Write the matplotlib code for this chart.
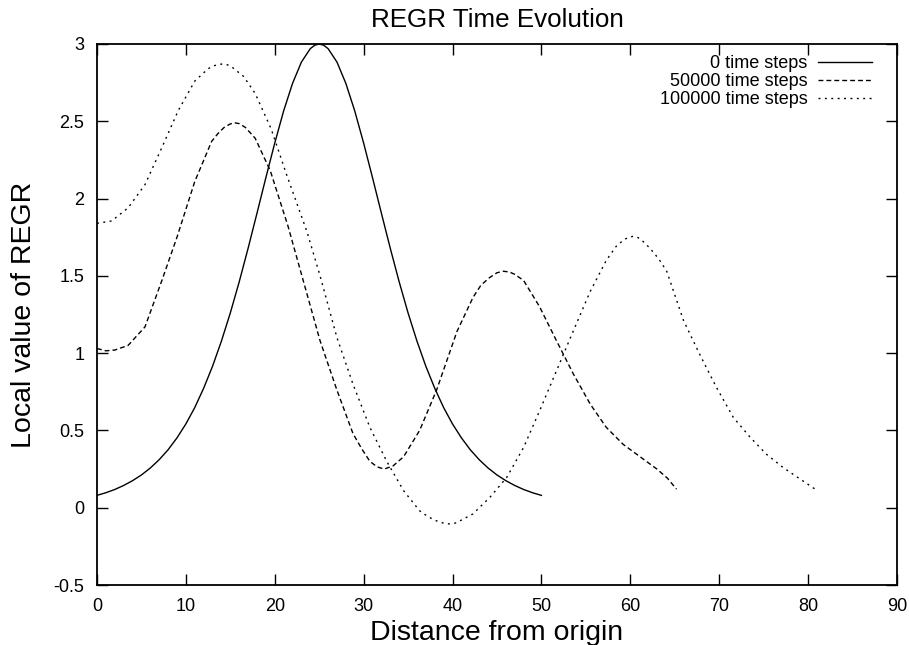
import matplotlib
matplotlib.use("Agg")
import matplotlib.pyplot as plt
from matplotlib.ticker import FormatStrFormatter, MultipleLocator

plt.rcParams["font.family"] = ["Liberation Sans", "DejaVu Sans"]
plt.rcParams["axes.unicode_minus"] = False

# 0 time steps
x_t0 = [0, 1, 2, 3, 4, 5, 6, 7, 8, 9, 10, 11, 12, 13, 14, 15, 16, 17, 18, 19,
        20, 21, 22, 23, 24, 24.5, 25, 25.5, 26, 27, 28, 29, 30, 31, 32, 33, 34,
        35, 36, 37, 38, 39, 40, 41, 42, 43, 44, 45, 46, 47, 48, 49, 50]
y_t0 = [0.080, 0.097, 0.118, 0.144, 0.175, 0.212, 0.257, 0.311, 0.375, 0.452,
        0.542, 0.648, 0.773, 0.915, 1.078, 1.260, 1.461, 1.678, 1.905, 2.135,
        2.359, 2.567, 2.745, 2.883, 2.970, 2.992, 3.000, 2.992, 2.970, 2.883,
        2.745, 2.567, 2.359, 2.135, 1.905, 1.678, 1.461, 1.260, 1.078, 0.915,
        0.773, 0.648, 0.542, 0.452, 0.375, 0.311, 0.257, 0.212, 0.175, 0.144,
        0.118, 0.097, 0.080]

# 50000 time steps
x_t50k = [0, 1, 2, 3.5, 5.4, 7.3, 9, 11, 12.9, 13.6, 14.3, 15, 15.5, 16, 16.7,
          17.8, 19.5, 21.5, 23.2, 25.1, 27, 28.8, 29.8, 30.7, 31.5, 32.3, 33.3,
          34.5, 36.3, 38.2, 40.5, 42.3, 43.2, 44.2, 45, 45.7, 46.4, 47, 48,
          49.8, 51.7, 53.6, 55.5, 57.3, 59.2, 61.1, 63, 64.2, 65.2]
y_t50k = [1.03, 1.015, 1.02, 1.05, 1.17, 1.47, 1.75, 2.11, 2.37, 2.42, 2.46,
          2.483, 2.49, 2.485, 2.46, 2.39, 2.18, 1.82, 1.47, 1.08, 0.76, 0.48,
          0.38, 0.30, 0.265, 0.25, 0.27, 0.33, 0.50, 0.76, 1.14, 1.36, 1.44,
          1.49, 1.52, 1.53, 1.525, 1.51, 1.47, 1.30, 1.08, 0.865, 0.67, 0.52,
          0.41, 0.33, 0.25, 0.19, 0.12]

# 100000 time steps
x_t100k = [0, 1.65, 3.5, 5.4, 7.3, 9.15, 11, 12.5, 13.2, 14, 14.7, 15.2, 16.5,
           17.8, 19.6, 21.3, 23.6, 25.1, 27, 28.8, 30.7, 32.6, 34.5, 36.3,
           37.3, 38.2, 39, 39.7, 40.4, 41, 42.3, 44.2, 46.1, 48, 49.8, 51.7,
           53.6, 55.5, 57.3, 58.4, 59.2, 59.8, 60.3, 60.8, 61.3, 62.2, 63.2,
           64.1, 66, 67.8, 69.7, 71.6, 73.5, 75.3, 77.2, 79.1, 80.8]
y_t100k = [1.84, 1.855, 1.94, 2.09, 2.33, 2.57, 2.76, 2.84, 2.86, 2.87, 2.865,
           2.85, 2.79, 2.68, 2.45, 2.16, 1.79, 1.50, 1.10, 0.80, 0.52, 0.30,
           0.11, -0.02, -0.06, -0.085, -0.10, -0.105, -0.098, -0.08, -0.04,
           0.067, 0.196, 0.39, 0.627, 0.886, 1.145, 1.40, 1.60, 1.69, 1.73,
           1.75, 1.755, 1.75, 1.73, 1.68, 1.61, 1.53, 1.21, 0.994, 0.778,
           0.584, 0.455, 0.347, 0.26, 0.186, 0.12]

fig = plt.figure(figsize=(9.09, 6.45), dpi=100)
ax = fig.add_axes([0.1067, 0.093, 0.88, 0.8388])

ax.plot(x_t0, y_t0, color="black", lw=1.0, linestyle="-", label="0 time steps")
ax.plot(x_t50k, y_t50k, color="black", lw=1.0, linestyle=(0, (3.5, 2.2)),
        label="50000 time steps")
ax.plot(x_t100k, y_t100k, color="black", lw=1.0, linestyle=(0, (1.4, 3.2)),
        label="100000 time steps")

ax.set_xlim(0, 90)
ax.set_ylim(-0.5, 3)
ax.xaxis.set_major_locator(MultipleLocator(10))
ax.yaxis.set_major_locator(MultipleLocator(0.5))
ax.yaxis.set_major_formatter(FormatStrFormatter("%g"))
ax.tick_params(direction="in", top=True, right=True, length=8, width=1.0,
               labelsize=13, pad=9)
for s in ax.spines.values():
    s.set_linewidth(1.3)

ax.set_title("REGR Time Evolution", fontsize=18.7, pad=12)
ax.set_xlabel("Distance from origin", fontsize=20.5, labelpad=4)
ax.set_ylabel("Local value of REGR", fontsize=20.5, labelpad=12)

ax.legend(loc="upper right", bbox_to_anchor=(0.9875, 1.006), frameon=False,
          markerfirst=False, fontsize=13, handlelength=3.0, labelspacing=0.05,
          borderaxespad=0.4, handletextpad=0.6)

fig.savefig("out.png", dpi=100)
